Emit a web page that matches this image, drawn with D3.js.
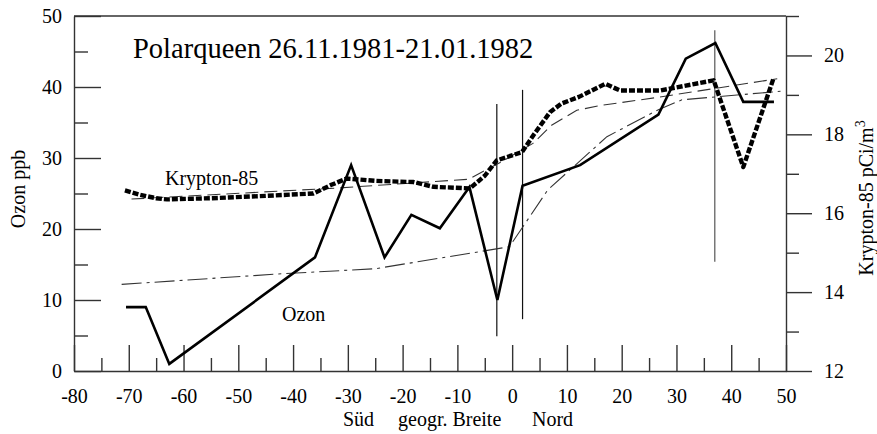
<!DOCTYPE html>
<html>
<head>
<meta charset="utf-8">
<script src="https://cdn.jsdelivr.net/npm/d3@7"></script>
<style>
  html, body { margin: 0; padding: 0; background: #fff; }
  svg { display: block; }
  text { font-family: "Liberation Serif", "Times New Roman", serif; fill: #000; }
</style>
</head>
<body>
<svg id="chart" width="877" height="434"></svg>
<script>
// ---- Data ----
const title = "Polarqueen 26.11.1981-21.01.1982";
const xTicks = [-80, -70, -60, -50, -40, -30, -20, -10, 0, 10, 20, 30, 40, 50];
const xMinorTicks = [-75, -65, -55, -45, -35, -25, -15, -5, 5, 15, 25, 35, 45];
const ozonTicks = [0, 10, 20, 30, 40, 50];
const ozonMinorTicks = [5, 15, 25, 35, 45];
const kryptonTicks = [12, 14, 16, 18, 20];
const kryptonMinorTicks = [13, 15, 17, 19, 21];

// Ozon (ppb, left axis): latitude, value
const ozonLat = [-70.5, -66.9, -62.6, -36, -29.4, -23.3, -18.4, -13.2, -7.8, -2.7, 1.9, 12.4, 26.7, 31.7, 37.1, 42.2, 47.8];
const ozonVal = [9, 9, 1, 16, 29, 16, 22, 20.1, 25.9, 10, 26.1, 29, 36.1, 44, 46.2, 37.9, 37.9];

// Krypton-85 (pCi/m3, right axis)
const kryptonLat = [-70.7, -68, -65, -63, -55, -45, -36.3, -33, -30.2, -25, -18, -14.4, -7.7, -5, -2.8, 1.8, 4, 6.9, 9, 12.2, 17, 19.7, 27, 36.8, 42.2, 47.7];
const kryptonVal = [16.58, 16.47, 16.38, 16.35, 16.38, 16.44, 16.5, 16.72, 16.88, 16.82, 16.79, 16.67, 16.63, 16.95, 17.34, 17.55, 18.0, 18.56, 18.78, 18.95, 19.28, 19.11, 19.11, 19.37, 17.17, 19.41];

// Krypton-85 trend (thin dashed, right axis)
const kryptonTrendLat = [-69.5, -31.8, -8, -2, 3.8, 7.2, 11.8, 16, 26.7, 48.4];
const kryptonTrendVal = [16.36, 16.64, 16.86, 17.3, 17.77, 18.23, 18.61, 18.73, 18.94, 19.41];

// Ozon trend (thin dash-dot, left axis)
const ozonTrendLat = [-71.3, -42, -25, -0.5, 6.5, 17.3, 26.7, 31, 49];
const ozonTrendVal = [12.2, 13.7, 14.4, 17.5, 25.5, 33.0, 36.8, 38.2, 39.4];

// Vertical marker lines: latitude, from / to (left-axis units)
const markerLat = [-2.8, 1.9, 37.0];
const markerFrom = [4.9, 7.3, 15.4];
const markerTo = [37.6, 39.6, 48.0];

// ---- Layout ----
const svg = d3.select("#chart");
const x = d3.scaleLinear().domain([-80, 50]).range([74, 786]);
const yL = d3.scaleLinear().domain([0, 50]).range([371, 16]);
const yR = d3.scaleLinear().domain([12, 21]).range([371, 16]);
const axisColor = "#333";
const fontSize = 20;

function styleAxis(g) {
  g.selectAll("path, line").attr("stroke", axisColor).attr("stroke-width", 1.4);
  g.selectAll("text").attr("font-size", fontSize).attr("font-family", '"Liberation Serif", "Times New Roman", serif').attr("fill", "#000");
}

// Bottom axis (ticks inward)
svg.append("g").attr("transform", `translate(0,${yL(0)})`)
  .call(d3.axisBottom(x).tickValues(xTicks).tickSize(-26).tickSizeOuter(0).tickPadding(18).tickFormat(d3.format("d")))
  .call(styleAxis)
  .call(g => g.selectAll("text").text(d => d < 0 ? "-" + Math.abs(d) : d));
svg.append("g").attr("transform", `translate(0,${yL(0)})`)
  .call(d3.axisBottom(x).tickValues(xMinorTicks).tickSize(-13).tickSizeOuter(0).tickFormat(""))
  .call(styleAxis)
  .call(g => g.select(".domain").remove());

// Left axis (ticks inward)
svg.append("g").attr("transform", `translate(${x(-80)},0)`)
  .call(d3.axisLeft(yL).tickValues(ozonTicks).tickSize(-27).tickSizeOuter(0).tickPadding(12))
  .call(styleAxis);
svg.append("g").attr("transform", `translate(${x(-80)},0)`)
  .call(d3.axisLeft(yL).tickValues(ozonMinorTicks).tickSize(-14).tickSizeOuter(0).tickFormat(""))
  .call(styleAxis)
  .call(g => g.select(".domain").remove());

// Right axis (ticks outward)
svg.append("g").attr("transform", `translate(${x(50)},0)`)
  .call(d3.axisRight(yR).tickValues(kryptonTicks).tickSize(26).tickSizeOuter(0).tickPadding(12))
  .call(styleAxis);
svg.append("g").attr("transform", `translate(${x(50)},0)`)
  .call(d3.axisRight(yR).tickValues(kryptonMinorTicks).tickSize(13).tickSizeOuter(0).tickFormat(""))
  .call(styleAxis)
  .call(g => g.select(".domain").remove());

// Top frame line
svg.append("line")
  .attr("x1", x(-80)).attr("x2", x(50))
  .attr("y1", yL(50)).attr("y2", yL(50))
  .attr("stroke", axisColor).attr("stroke-width", 1.4);

// Marker lines
markerLat.forEach((lat, i) => {
  svg.append("line")
    .attr("x1", x(lat)).attr("x2", x(lat))
    .attr("y1", yL(markerFrom[i])).attr("y2", yL(markerTo[i]))
    .attr("stroke", i === 2 ? "#555" : "#111").attr("stroke-width", 1.2);
});

// Trend lines
const ozonLine = d3.line().x(d => x(d[0])).y(d => yL(d[1]));
svg.append("path")
  .datum(ozonTrendLat.map((l, i) => [l, ozonTrendVal[i]]))
  .attr("d", ozonLine)
  .attr("fill", "none").attr("stroke", "#333").attr("stroke-width", 1.1)
  .attr("stroke-dasharray", "20,5,3,5");

const kryptonLine = d3.line().x(d => x(d[0])).y(d => yR(d[1]));
svg.append("path")
  .datum(kryptonTrendLat.map((l, i) => [l, kryptonTrendVal[i]]))
  .attr("d", kryptonLine)
  .attr("fill", "none").attr("stroke", "#333").attr("stroke-width", 1.1)
  .attr("stroke-dasharray", "13,6");

// Ozon main line
svg.append("path")
  .datum(ozonLat.map((l, i) => [l, ozonVal[i]]))
  .attr("d", ozonLine)
  .attr("fill", "none").attr("stroke", "#000").attr("stroke-width", 2.6)
  .attr("stroke-linejoin", "miter");

// Krypton main line
svg.append("path")
  .datum(kryptonLat.map((l, i) => [l, kryptonVal[i]]))
  .attr("d", kryptonLine)
  .attr("fill", "none").attr("stroke", "#000").attr("stroke-width", 4.4)
  .attr("stroke-linejoin", "round")
  .attr("stroke-dasharray", "6,2");

// Texts
svg.append("text").attr("x", 133).attr("y", 58)
  .attr("font-size", 28.5).text(title);
svg.append("text").attr("x", 165).attr("y", 185)
  .attr("font-size", fontSize).text("Krypton-85");
svg.append("text").attr("x", 282).attr("y", 321)
  .attr("font-size", fontSize).text("Ozon");

svg.append("text").attr("x", 343).attr("y", 426).attr("font-size", fontSize).text("Süd");
svg.append("text").attr("x", 398).attr("y", 426).attr("font-size", fontSize).text("geogr. Breite");
svg.append("text").attr("x", 532).attr("y", 426).attr("font-size", fontSize).text("Nord");

svg.append("text")
  .attr("transform", "translate(25,189) rotate(-90)")
  .attr("text-anchor", "middle").attr("font-size", fontSize)
  .text("Ozon ppb");

const rl = svg.append("text")
  .attr("transform", "translate(873,198) rotate(-90)")
  .attr("text-anchor", "middle").attr("font-size", fontSize);
rl.append("tspan").text("Krypton-85 pCi/m");
rl.append("tspan").attr("dy", -8).attr("font-size", 14).text("3");
</script>
</body>
</html>
